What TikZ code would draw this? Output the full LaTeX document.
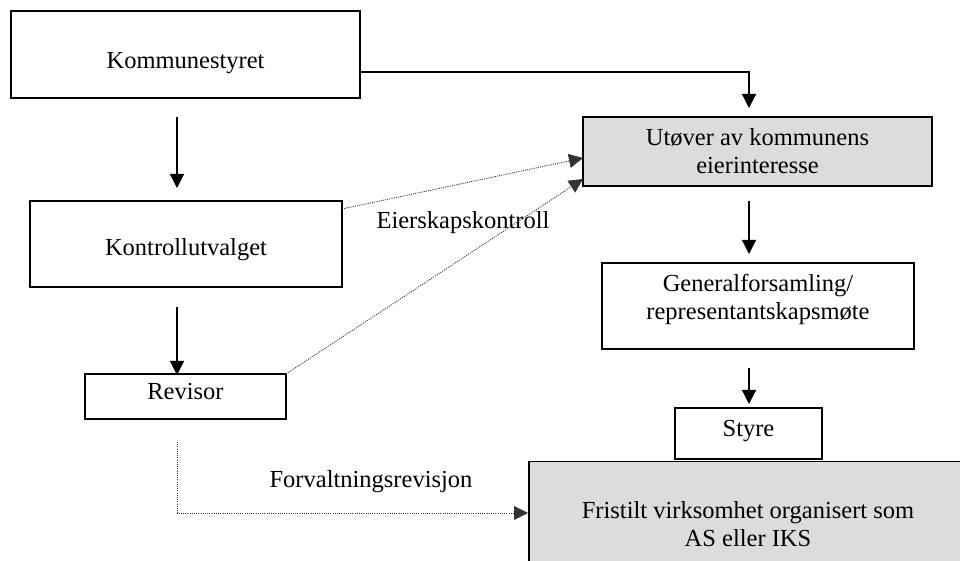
\documentclass[tikz,border=0pt]{standalone}
\usepackage{fontspec}
\setmainfont{Liberation Serif}
\usetikzlibrary{arrows.meta}
\definecolor{boxgray}{RGB}{220,220,220}
\tikzset{
  box/.style={draw=black, line width=0.75pt, inner sep=0pt, minimum width=#1},
  txt/.style={font=\fontsize{12.25}{14}\selectfont, align=center, inner sep=0pt},
  solidarrow/.style={line width=0.6pt, -{Triangle[length=7pt,width=7pt]}},
  dotarrow/.style={line width=0.45pt, draw=black!80, dash pattern=on 0.5pt off 0.6pt, -{Triangle[length=7pt,width=7pt]}}
}
\begin{document}
\begin{tikzpicture}[x=0.5pt,y=-0.5pt]
\clip (0,0) rectangle (960,561);
\useasboundingbox (0,0) rectangle (960,561);
\fill[white] (0,0) rectangle (960,561);
% boxes
\node[box=174.5pt, minimum height=43.5pt] (ks) at (185.5,54.5) {};
\node[txt] (kst) at (185.5,63) {Kommunestyret};
\node[box=174.5pt, minimum height=34.5pt, fill=boxgray] (ut) at (757.5,151.5) {};
\node[txt] (utt) at (757.5,151) {Utøver av kommunens\\eierinteresse};
\node[box=156pt, minimum height=43pt] (ku) at (186,244) {};
\node[txt] (kut) at (186,250) {Kontrollutvalget};
\node[box=100.5pt, minimum height=22.5pt] (rev) at (185.5,396.5) {};
\node[txt] (revt) at (185.5,392) {Revisor};
\node[box=156pt, minimum height=43pt] (gf) at (758,306) {};
\node[txt] (gft) at (758,299) {Generalforsamling/\\representantskapsmøte};
\node[box=73.5pt, minimum height=25.5pt] (st) at (748.5,433.5) {};
\node[txt] (stt) at (748.5,431) {Styre};
\node[box=230pt, minimum height=60pt, fill=boxgray, anchor=north west] (fr) at (528,461) {};
\node[txt] (frt) at (748,524) {Fristilt virksomhet organisert som\\AS eller IKS};
% labels
\node[txt] (ek) at (463,223) {Eierskapskontroll};
\node[txt] (fv) at (371,482) {Forvaltningsrevisjon};
% helper coordinates
\coordinate (a1) at (177,117);
\coordinate (a1e) at (177,188);
\coordinate (a2) at (177,307);
\coordinate (a2e) at (177,375);
\coordinate (k1) at (749,72);
\coordinate (k1e) at (749,108);
\coordinate (g1) at (749,201);
\coordinate (g1e) at (749,254);
\coordinate (s1) at (749,368);
\coordinate (s1e) at (749,404);
\coordinate (d1) at (342,209);
\coordinate (d1e) at (583,158);
\coordinate (d2) at (286,374);
\coordinate (d2e) at (583,179);
\coordinate (r1) at (177,442);
\coordinate (r2) at (177,513);
\coordinate (r2e) at (528,513);
% connectors
\draw[solidarrow] (a1) -- (a1e);
\draw[solidarrow] (a2) -- (a2e);
\draw[solidarrow] (ks.east |- k1) -| (k1e);
\draw[solidarrow] (g1) -- (g1e);
\draw[solidarrow] (s1) -- (s1e);
\draw[dotarrow] (d1) -- (d1e);
\draw[dotarrow] (d2) -- (d2e);
\draw[dotarrow] (r1) -- (r2) -- (r2e);
\end{tikzpicture}
\end{document}
